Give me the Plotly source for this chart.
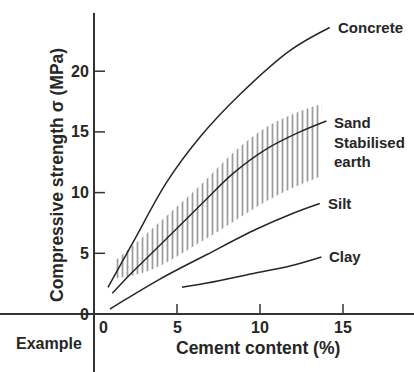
import plotly.graph_objects as go

# Data (cement content %, compressive strength MPa)
concrete_x = [0.84, 2.35, 4.4, 6.4, 8.8, 11.8, 14.2]
concrete_y = [2.2, 5.9, 10.9, 14.6, 18.1, 21.7, 23.6]

sand_x = [1.1, 2.2, 3.4, 5.4, 6.8, 8.4, 10.4, 12.4, 14.0]
sand_y = [1.7, 3.3, 4.9, 7.6, 9.5, 11.6, 13.6, 15.0, 15.9]

band_low_x = [1.2, 3.4, 6.4, 8.4, 10.4, 12.0, 13.6]
band_low_y = [2.9, 3.6, 5.9, 7.6, 9.3, 10.4, 11.3]
band_up_x = [1.2, 3.4, 6.4, 8.4, 10.4, 12.4, 13.7]
band_up_y = [4.3, 6.9, 10.6, 13.3, 15.4, 16.7, 17.3]

silt_x = [0.96, 1.9, 4.0, 6.8, 9.8, 12.0, 13.6]
silt_y = [0.4, 1.2, 2.9, 4.9, 7.0, 8.3, 9.1]

clay_x = [5.3, 6.8, 9.8, 11.8, 13.7]
clay_y = [2.2, 2.55, 3.4, 3.95, 4.7]

x_ticks = [5, 10, 15]
x_tick_labels = ["5", "10", "15"]
y_ticks = [0, 5, 10, 15, 20]
y_tick_labels = ["0", "5", "10", "15", "20"]

INK = "#262626"
AX = "#333333"
FONT = "Liberation Sans, Arial, sans-serif"

fig = go.Figure()

# hatched band
fig.add_trace(go.Scatter(x=band_low_x, y=band_low_y, mode="lines",
                         line=dict(width=0, shape="spline"), showlegend=False,
                         hoverinfo="skip"))
fig.add_trace(go.Scatter(x=band_up_x, y=band_up_y, mode="lines",
                         line=dict(width=0, shape="spline"), fill="tonexty",
                         fillcolor="rgba(0,0,0,0)",
                         fillpattern=dict(shape="|", size=5, solidity=0.35,
                                          fgcolor="#3a3a3a", fillmode="overlay"),
                         showlegend=False, hoverinfo="skip"))

curves = [
    (concrete_x, concrete_y, "Concrete"),
    (sand_x, sand_y, "Sand<br>Stabilised<br>earth"),
    (silt_x, silt_y, "Silt"),
    (clay_x, clay_y, "Clay"),
]
for cx, cy, name in curves:
    fig.add_trace(go.Scatter(x=cx, y=cy, mode="lines",
                             line=dict(color=INK, width=1.5, shape="spline"),
                             showlegend=False, hoverinfo="skip"))
    yshift = -21 if name.startswith("Sand") else 0
    fig.add_annotation(x=cx[-1], y=cy[-1], text="<b>%s</b>" % name,
                       showarrow=False, xanchor="left", yanchor="middle",
                       xshift=6, yshift=yshift, align="left",
                       font=dict(family=FONT, size=15, color=INK))

fig.update_layout(
    width=414, height=372,
    margin=dict(l=0, r=0, t=0, b=0),
    paper_bgcolor="white", plot_bgcolor="white",
    font=dict(family=FONT, size=16, color=INK),
    xaxis=dict(range=[-94 / 16.6, (414 - 94) / 16.6], anchor="free",
               position=1 - 314 / 372, showgrid=False, zeroline=False,
               showline=True, linecolor=AX, linewidth=1.6,
               showticklabels=False, ticks=""),
    yaxis=dict(range=[-(372 - 314) / 12.14, (314 - 13) / 12.14],
               domain=[0, 1 - 13 / 372], anchor="free", position=94 / 414,
               showgrid=False, zeroline=False, showline=True,
               linecolor=AX, linewidth=1.6,
               showticklabels=False, ticks=""),
)

# tick marks and labels
for t, lab in zip(x_ticks, x_tick_labels):
    fig.add_shape(type="line", xref="x", yref="y", x0=t, x1=t,
                  ysizemode="pixel", yanchor=0, y0=0, y1=10,
                  line=dict(color=AX, width=1.5))
    fig.add_annotation(x=t, y=0, text="<b>%s</b>" % lab, showarrow=False,
                       xanchor="center", yanchor="top", yshift=-3,
                       font=dict(family=FONT, size=16, color=INK))
for t, lab in zip(y_ticks, y_tick_labels):
    if t != 0:
        fig.add_shape(type="line", xref="x", yref="y", y0=t, y1=t,
                      xsizemode="pixel", xanchor=0, x0=0, x1=11,
                      line=dict(color=AX, width=1.5))
    fig.add_annotation(x=0, y=t, text="<b>%s</b>" % lab, showarrow=False,
                       xanchor="right", yanchor="middle", xshift=-3,
                       font=dict(family=FONT, size=16, color=INK))

fig.add_annotation(x=0, y=0, text="<b>0</b>", showarrow=False, xanchor="center",
                   yanchor="top", xshift=9, yshift=-3,
                   font=dict(family=FONT, size=16, color=INK))
fig.add_annotation(xref="paper", yref="paper", x=49 / 414, y=1 - 343 / 372,
                   xanchor="center", yanchor="middle",
                   text="<b>Example</b>", showarrow=False,
                   font=dict(family=FONT, size=16, color=INK))
fig.add_annotation(xref="paper", yref="paper", x=258 / 414, y=1 - 348 / 372,
                   xanchor="center", yanchor="middle",
                   text="<b>Cement content (%)</b>", showarrow=False,
                   font=dict(family=FONT, size=17.5, color=INK))
fig.add_annotation(xref="paper", yref="paper", x=57 / 414, y=1 - 175 / 372,
                   xanchor="center", yanchor="middle",
                   text="<b>Compressive strength σ (MPa)</b>", showarrow=False,
                   textangle=-90, font=dict(family=FONT, size=17.5, color=INK))

fig.write_html("out.html")
